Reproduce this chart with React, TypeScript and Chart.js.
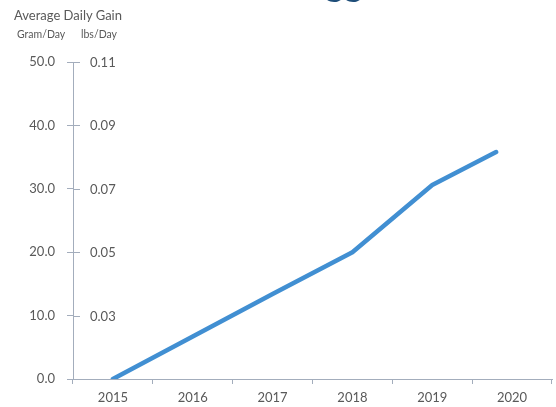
import React, { useEffect, useRef } from "react";
import { Chart, registerables } from "chart.js";

Chart.register(...registerables);

const categories = ["2015", "2016", "2017", "2018", "2019", "2020"];
const pointYears = [2015, 2016, 2017, 2018, 2019, 2019.8];
const gainValues = [0, 6.7, 13.4, 20.0, 30.6, 35.8];
const gramTicks = [50, 40, 30, 20, 10];
const lbsLabels = ["0.11", "0.09", "0.07", "0.05", "0.03"];

const AXIS = "#A3ADBC";
const TEXT = "#595959";
const FONT = "Lato, 'Open Sans', sans-serif";

const extraPlugin = {
  id: "extras",
  afterDraw(chart: any) {
    const ctx = chart.ctx;
    const y = chart.scales.y;
    const x0 = chart.chartArea.left;
    ctx.save();
    ctx.strokeStyle = AXIS;
    ctx.lineWidth = 1;
    ctx.fillStyle = TEXT;
    ctx.font = "13px " + FONT;
    ctx.textAlign = "left";
    ctx.textBaseline = "middle";
    gramTicks.forEach((v, i) => {
      const py = Math.round(y.getPixelForValue(v)) + 0.5;
      ctx.beginPath();
      ctx.moveTo(x0, py);
      ctx.lineTo(x0 + 7, py);
      ctx.stroke();
      ctx.fillText(lbsLabels[i], x0 + 17, py);
    });
    // clipped title descenders at top
    ctx.fillStyle = "#1F4E79";
    ctx.font = "bold 36px " + FONT;
    ctx.textBaseline = "alphabetic";
    ctx.fillText("gg", 325, -4);
    ctx.restore();
  },
};

export default function App() {
  const ref = useRef<HTMLCanvasElement>(null);
  useEffect(() => {
    if (!ref.current) return;
    const chart = new Chart(ref.current, {
      type: "line",
      data: {
        labels: categories,
        datasets: [
          {
            data: pointYears.map((yr, i) => ({ x: yr, y: gainValues[i] })),
            xAxisID: "xd",
            yAxisID: "y",
            borderColor: "#418FD2",
            borderWidth: 4.5,
            borderCapStyle: "round",
            borderJoinStyle: "round",
            pointRadius: 0,
            fill: false,
            tension: 0,
          },
        ],
      },
      plugins: [extraPlugin],
      options: {
        animation: false,
        responsive: false,
        maintainAspectRatio: false,
        layout: { padding: { top: 62, right: 4, left: 0, bottom: 0 } },
        plugins: { legend: { display: false }, tooltip: { enabled: false }, title: { display: false } },
        scales: {
          x: {
            type: "category",
            offset: true,
            grid: { offset: true, drawOnChartArea: false, color: AXIS, tickLength: 5 },
            border: { color: AXIS, width: 1 },
            ticks: { color: TEXT, font: { family: FONT, size: 13 }, padding: 6, maxRotation: 0 },
            afterFit: (s: any) => { s.height = 28; },
          },
          xd: {
            type: "linear",
            display: false,
            min: 2014.5,
            max: 2020.5,
          },
          y: {
            type: "linear",
            position: "left",
            min: 0,
            max: 50,
            ticks: {
              stepSize: 10,
              color: TEXT,
              font: { family: FONT, size: 13 },
              padding: 12,
              callback: (v: any) => Number(v).toFixed(1),
            },
            grid: { drawOnChartArea: false, color: AXIS, tickLength: 6 },
            border: { color: AXIS, width: 1 },
            afterFit: (s: any) => { s.width = 73; },
          },
        },
      },
    } as any);
    return () => chart.destroy();
  }, []);

  return (
    <div style={{ position: "fixed", left: 0, top: 0, width: 556, height: 407, background: "#fff" }}>
      <canvas ref={ref} width={556} height={407} style={{ display: "block", width: 556, height: 407 }} />
      <div style={{ position: "absolute", left: 14, top: 7, fontFamily: FONT, fontSize: 13, color: TEXT, whiteSpace: "nowrap", lineHeight: "16px" }}>
        Average Daily Gain
      </div>
      <div style={{ position: "absolute", left: 17, top: 27, fontFamily: FONT, fontSize: 10.5, color: TEXT, whiteSpace: "nowrap", lineHeight: "14px" }}>
        Gram/Day
      </div>
      <div style={{ position: "absolute", left: 81, top: 27, fontFamily: FONT, fontSize: 10.5, color: TEXT, whiteSpace: "nowrap", lineHeight: "14px" }}>
        lbs/Day
      </div>
    </div>
  );
}
